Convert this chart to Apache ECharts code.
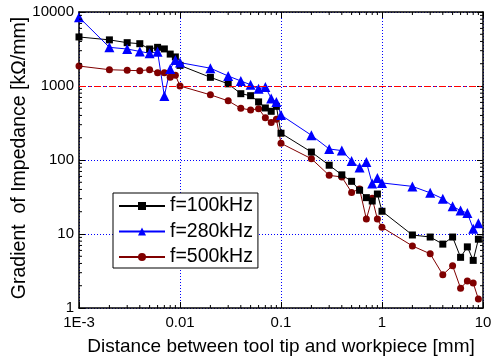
<!DOCTYPE html>
<html>
<head>
<meta charset="utf-8">
<script src="https://cdn.jsdelivr.net/npm/echarts@6/dist/echarts.min.js"></script>
<style>
html,body{margin:0;padding:0;background:#fff;}
#chart{width:491px;height:361px;}
</style>
</head>
<body>
<div id="chart"></div>
<script>
// distances [mm]
const distances = [0.001,0.002,0.003,0.004,0.005,0.006,0.007,0.008,0.009,
  0.01,0.02,0.03,0.04,0.05,0.06,0.07,0.08,0.09,
  0.1,0.2,0.3,0.4,0.5,0.6,0.7,0.8,0.9,
  1,2,3,4,5,6,7,8,9];
// gradient of impedance [kΩ/mm]
const f100 = [4600,4200,3850,3730,3160,3330,3170,2700,2470,
  1900,1310,1070,787,740,610,505,455,531,
  230,128,85,63,51.5,39,31,27.9,34.7,
  20.3,9.7,9.1,7.3,9.1,4.84,6.7,4.4,8.5];
const f280 = [8500,3330,3160,2930,2770,2900,733,1700,2240,
  2070,1740,1365,1170,1040,915,970,680,610,
  405,216,141,134,97,79,94,48,57,
  49,44,36,30,23.7,20.7,19.2,11.8,14];
const f500 = [1860,1660,1630,1610,1660,1510,1510,1310,1400,
  1000,760,630,500,474,493,372,322,355,
  168,104,62,59,36.5,40.5,15.9,30.3,15.9,
  12.3,6.9,5.4,2.82,3.73,1.85,2.32,2.18,1.32];
const seriesNames = ['f=100kHz','f=280kHz','f=500kHz'];
const xTickLabels = {'-3':'1E-3','-2':'0.01','-1':'0.1','0':'1','1':'10'};
const yTickLabels = {'0':'1','1':'10','2':'100','3':'1000','4':'10000'};
const refLevel = 1000;
const xMin = 0.001, xMax = 10, yMin = 1, yMax = 10000;
const minorMult = [2,3,4,5,6,7,8,9];
const xDecades = [0.001,0.01,0.1,1];
const yDecades = [1,10,100,1000];

const pair = (ys) => distances.map((x,i)=>[x, ys[i]]);
const minorData = [];
xDecades.forEach(d=>minorMult.forEach(m=>minorData.push([d*m, yMin, 0])));
yDecades.forEach(d=>minorMult.forEach(m=>minorData.push([xMin, d*m, 1])));

const FONT = 'Liberation Sans, Arial, sans-serif';
const chart = echarts.init(document.getElementById('chart'), null, {renderer:'canvas'});
const axisLineStyle = {color:'#000', width:1.5};
const grid = {left:79, right:8, top:12, bottom:53, containLabel:false, outerBoundsMode:'none'};

chart.setOption({
  animation:false,
  backgroundColor:'#fff',
  grid: grid,
  legend:{
    data: seriesNames,
    orient:'vertical', left:113, top:193,
    borderColor:'#000', borderWidth:1, backgroundColor:'#fff',
    padding:[3,5,1,5], itemGap:5.5, itemWidth:46, itemHeight:10,
    textStyle:{fontSize:19.5, color:'#000', fontFamily:FONT}
  },
  xAxis:[{
    type:'log', logBase:10, min:xMin, max:xMax, position:'bottom',
    axisLine:{lineStyle:axisLineStyle},
    axisTick:{inside:true, length:6, lineStyle:{color:'#000', width:1}},
    axisLabel:{fontSize:15, color:'#000', fontFamily:FONT, margin:7,
      formatter:(v)=>xTickLabels[String(Math.round(Math.log10(v)))]},
    splitLine:{show:true, lineStyle:{color:'#0000ff', type:[1,2], width:1}},
    name:'Distance between tool tip and workpiece [mm]', nameLocation:'middle', nameGap:29,
    nameMoveOverlap:false,
    nameTextStyle:{fontSize:19, color:'#000', fontFamily:FONT}
  },{
    type:'log', logBase:10, min:xMin, max:xMax, position:'top',
    axisLine:{lineStyle:axisLineStyle},
    axisTick:{inside:true, length:6, lineStyle:{color:'#000', width:1}},
    axisLabel:{show:false}, splitLine:{show:false}
  }],
  yAxis:[{
    type:'log', logBase:10, min:yMin, max:yMax, position:'left',
    axisLine:{lineStyle:axisLineStyle},
    axisTick:{inside:true, length:6, lineStyle:{color:'#000', width:1}},
    axisLabel:{fontSize:15, color:'#000', fontFamily:FONT, margin:5,
      formatter:(v)=>yTickLabels[String(Math.round(Math.log10(v)))]},
    splitLine:{show:true, lineStyle:{color:'#0000ff', type:[1,2], width:1}},
    name:'Gradient  of Impedance [kΩ/mm]', nameLocation:'middle', nameGap:49, nameRotate:90,
    nameMoveOverlap:false,
    nameTextStyle:{fontSize:19.5, color:'#000', fontFamily:FONT, padding:[0,0,0,4]}
  },{
    type:'log', logBase:10, min:yMin, max:yMax, position:'right',
    axisLine:{lineStyle:axisLineStyle},
    axisTick:{inside:true, length:6, lineStyle:{color:'#000', width:1}},
    axisLabel:{show:false}, splitLine:{show:false}
  }],
  series:[
    {name:seriesNames[2], type:'line', data:pair(f500), symbol:'circle', symbolSize:7,
      itemStyle:{color:'#800000'}, lineStyle:{color:'#800000', width:1},
      markLine:{silent:true, symbol:'none', label:{show:false},
        lineStyle:{color:'#ff0000', type:[7,3,2,3], width:1.2},
        data:[{yAxis:refLevel}]}},
    {name:seriesNames[0], type:'line', data:pair(f100), symbol:'rect', symbolSize:7,
      itemStyle:{color:'#000'}, lineStyle:{color:'#000', width:1}},
    {name:seriesNames[1], type:'line', data:pair(f280), symbol:'triangle', symbolSize:10,
      itemStyle:{color:'#0000ff'}, lineStyle:{color:'#0000ff', width:1}},
    {type:'custom', silent:true, clip:false, z:10, data:minorData,
      renderItem:function(params, api){
        const flag = api.value(2);
        const len = 3;
        const st = {stroke:'#000', lineWidth:1};
        if (flag === 0) {
          const v = api.value(0);
          const b = api.coord([v, yMin]); const t = api.coord([v, yMax]);
          return {type:'group', children:[
            {type:'line', shape:{x1:b[0],y1:b[1],x2:b[0],y2:b[1]-len}, style:st},
            {type:'line', shape:{x1:t[0],y1:t[1],x2:t[0],y2:t[1]+len}, style:st}
          ]};
        } else {
          const v = api.value(1);
          const l = api.coord([xMin, v]); const r = api.coord([xMax, v]);
          return {type:'group', children:[
            {type:'line', shape:{x1:l[0],y1:l[1],x2:l[0]+len,y2:l[1]}, style:st},
            {type:'line', shape:{x1:r[0],y1:r[1],x2:r[0]-len,y2:r[1]}, style:st}
          ]};
        }
      }}
  ]
});
</script>
</body>
</html>
